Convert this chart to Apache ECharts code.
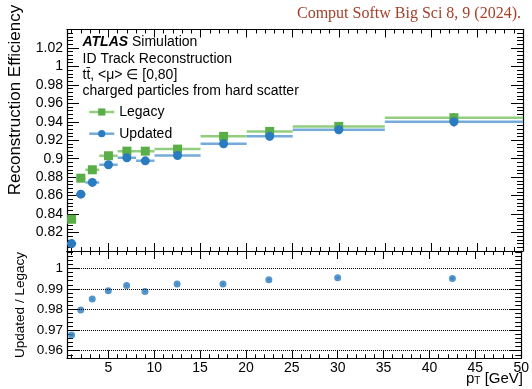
<!DOCTYPE html>
<html>
<head>
<meta charset="utf-8">
<script src="https://cdn.jsdelivr.net/npm/echarts@6/dist/echarts.min.js"></script>
<style>
  html, body { margin: 0; padding: 0; background: #fff; }
  #chart { width: 532px; height: 389px; }
</style>
</head>
<body>
<div id="chart"></div>
<script>
// pT bins [GeV]
const binLow    = [0.5, 1.5, 2.5, 4, 6, 8, 10, 15, 20, 25, 35];
const binHigh   = [1.5, 2.5, 4, 6, 8, 10, 15, 20, 25, 35, 50];
const binCenter = [1, 2, 3.25, 5, 7, 9, 12.5, 17.5, 22.5, 30, 42.5];

// Reconstruction efficiency per bin
const effLegacy  = [0.8344, 0.8789, 0.8880, 0.9032, 0.9082, 0.9082, 0.9104, 0.9242, 0.9296, 0.9350, 0.9444];
const errLegacy  = [0.0010, 0.0010, 0.0010, 0.0012, 0.0015, 0.0018, 0.0022, 0.0035, 0.0045, 0.0045, 0.0050];
const effUpdated = [0.8080, 0.8616, 0.8743, 0.8934, 0.9010, 0.8977, 0.9035, 0.9162, 0.9242, 0.9314, 0.9400];
const errUpdated = [0.0010, 0.0010, 0.0010, 0.0012, 0.0015, 0.0018, 0.0022, 0.0035, 0.0045, 0.0045, 0.0050];

// Updated / Legacy
const ratioVals = [0.9676, 0.9798, 0.9851, 0.9891, 0.9916, 0.9887, 0.9924, 0.9924, 0.9945, 0.9954, 0.9951];
const ratioErr  = [0.0003, 0.0002, 0.0002, 0.0002, 0.0002, 0.0002, 0.0002, 0.0003, 0.0003, 0.0004, 0.0006];

// Tick values
const xMajorTicks   = [5, 10, 15, 20, 25, 30, 35, 40, 45, 50];
const effTicks      = [0.82, 0.84, 0.86, 0.88, 0.9, 0.92, 0.94, 0.96, 0.98, 1, 1.02];
const ratioTicks    = [0.96, 0.97, 0.98, 0.99, 1];

const X_MIN = 0.5, X_MAX = 50;
const EFF_MIN = 0.8, EFF_MAX = 1.04;
const RATIO_MIN = 0.9563, RATIO_MAX = 1.0084;

// minor tick positions
function minorTicks(lo, hi, step, majors) {
  const out = [];
  const n = Math.round((hi - lo) / step);
  for (let i = 0; i <= n; i++) {
    const v = +(lo + i * step).toFixed(6);
    if (!majors.some(m => Math.abs(m - v) < step / 10)) out.push(v);
  }
  return out;
}
const xMinorTicks     = minorTicks(1, 49, 1, xMajorTicks);
const effMinorTicks   = minorTicks(0.804, 1.036, 0.004, effTicks);
const ratioMinorTicks = minorTicks(0.958, 1.008, 0.002, ratioTicks);

const FONT = '"Liberation Sans", Arial, Helvetica, sans-serif';
const GREEN = '#5aae47', GREEN_LINE = '#93cd80';
const BLUE = '#2a7bbf',  BLUE_LINE = '#74abda';

// Four framed sides per grid: major + minor tick axis on each side
function frameAxes(dir, grid, min, max, majors, minors, majLen, minLen, labelOpt) {
  const sides = dir === 'x' ? ['bottom', 'top'] : ['left', 'right'];
  const out = [];
  sides.forEach((side, s) => {
    out.push({
      type: 'value', gridIndex: grid, position: side, min: min, max: max,
      axisLine: { show: true, onZero: false, lineStyle: { color: '#000', width: 1.2 } },
      axisTick: { show: true, inside: true, length: majLen, customValues: majors,
                  lineStyle: { color: '#000', width: 1 } },
      axisLabel: (s === 0 && labelOpt)
        ? Object.assign({ show: true, customValues: majors }, labelOpt)
        : { show: false },
      splitLine: { show: false }
    });
    out.push({
      type: 'value', gridIndex: grid, position: side, min: min, max: max,
      axisLine: { show: false, onZero: false },
      axisTick: { show: true, inside: true, length: minLen, customValues: minors,
                  lineStyle: { color: '#000', width: 1 } },
      axisLabel: { show: false },
      splitLine: { show: false }
    });
  });
  return out;
}

const numFmt = v => String(+v.toFixed(3));

const xAxes = [].concat(
  frameAxes('x', 0, X_MIN, X_MAX, xMajorTicks, xMinorTicks, 8, 4, null),
  frameAxes('x', 1, X_MIN, X_MAX, xMajorTicks, xMinorTicks, 8, 4,
    { margin: 3, color: '#000', fontFamily: FONT, fontSize: 14, formatter: numFmt })
);
const yAxes = [].concat(
  frameAxes('y', 0, EFF_MIN, EFF_MAX, effTicks, effMinorTicks, 12, 6,
    { margin: 4, color: '#000', fontFamily: FONT, fontSize: 14, formatter: numFmt }),
  frameAxes('y', 1, RATIO_MIN, RATIO_MAX, ratioTicks, ratioMinorTicks, 12, 6,
    { margin: 4, color: '#000', fontFamily: FONT, fontSize: 13.5, formatter: numFmt })
);

// Horizontal bin extent + vertical uncertainty for one sample
function binSeries(name, vals, errs, lineColor, markColor, xi, yi, showWidth) {
  return {
    name: name, type: 'custom', xAxisIndex: xi, yAxisIndex: yi, silent: true, clip: true,
    z: 2,
    data: binLow.map((lo, i) => [lo, binHigh[i], binCenter[i], vals[i], errs[i]]),
    encode: { x: [0, 1], y: 3 },
    renderItem: function (params, api) {
      const lo = api.value(0), hi = api.value(1), c = api.value(2);
      const v = api.value(3), e = api.value(4);
      const a = api.coord([lo, v]), b = api.coord([hi, v]);
      const t = api.coord([c, v + e]), d = api.coord([c, v - e]);
      const children = [];
      if (showWidth) {
        children.push({ type: 'line', shape: { x1: a[0], y1: a[1], x2: b[0], y2: b[1] },
                        style: { stroke: lineColor, lineWidth: 2.5 } });
      }
      children.push({ type: 'line', shape: { x1: t[0], y1: t[1], x2: d[0], y2: d[1] },
                      style: { stroke: markColor, lineWidth: 2 } });
      return { type: 'group', children: children };
    }
  };
}

const option = {
  animation: false,
  backgroundColor: '#fff',
  grid: [
    { left: 67, right: 9, top: 29.5, height: 221.5 },
    { left: 67, right: 9, top: 251, height: 107.3 }
  ],
  xAxis: xAxes,
  yAxis: yAxes,
  legend: {
    orient: 'vertical', left: 83, top: 99,
    itemWidth: 25, itemHeight: 9, itemGap: 5.7,
    textStyle: { fontFamily: FONT, fontSize: 14, color: '#000', lineHeight: 16 },
    selectedMode: false,
    data: [
      { name: 'Legacy',  lineStyle: { color: GREEN_LINE, width: 2.5, opacity: 1 } },
      { name: 'Updated', lineStyle: { color: BLUE_LINE,  width: 2.5, opacity: 1 } }
    ]
  },
  series: [
    binSeries('Legacy bins',  effLegacy,  errLegacy,  GREEN_LINE, GREEN, 0, 0, true),
    binSeries('Updated bins', effUpdated, errUpdated, BLUE_LINE,  BLUE,  0, 0, true),
    {
      name: 'Legacy', type: 'line', xAxisIndex: 0, yAxisIndex: 0, z: 3,
      data: binCenter.map((x, i) => [x, effLegacy[i]]),
      symbol: 'rect', symbolSize: 9, showSymbol: true,
      itemStyle: { color: GREEN },
      lineStyle: { opacity: 0, color: GREEN_LINE }
    },
    {
      name: 'Updated', type: 'line', xAxisIndex: 0, yAxisIndex: 0, z: 4,
      data: binCenter.map((x, i) => [x, effUpdated[i]]),
      symbol: 'circle', symbolSize: 9, showSymbol: true,
      itemStyle: { color: BLUE },
      lineStyle: { opacity: 0, color: BLUE_LINE }
    },
    binSeries('Ratio err', ratioVals, ratioErr, BLUE_LINE, BLUE, 4, 4, false),
    {
      name: 'Ratio', type: 'scatter', xAxisIndex: 4, yAxisIndex: 4, z: 4,
      data: binCenter.map((x, i) => [x, ratioVals[i]]),
      symbol: 'circle', symbolSize: 7,
      itemStyle: { color: BLUE },
      markLine: {
        silent: true, symbol: 'none', animation: false,
        label: { show: false },
        lineStyle: { color: '#000', type: 'dotted', width: 1 },
        data: ratioTicks.map(v => ({ yAxis: v }))
      }
    }
  ],
  graphic: [
    { type: 'text', x: 521, y: 14,
      style: { text: 'Comput Softw Big Sci 8, 9 (2024).', textAlign: 'right', textVerticalAlign: 'middle',
               font: '16px "Liberation Serif", "Times New Roman", serif', fill: '#a4402a' } },
    { type: 'text', x: 82.5, y: 41.7,
      style: { text: '{b|ATLAS} Simulation', textVerticalAlign: 'middle',
               font: '14px ' + FONT, fill: '#000',
               rich: { b: { fontWeight: 'bold', fontStyle: 'italic', fontSize: 14, fontFamily: FONT } } } },
    { type: 'text', x: 82.5, y: 59,
      style: { text: 'ID Track Reconstruction', textVerticalAlign: 'middle', font: '14px ' + FONT, fill: '#000' } },
    { type: 'text', x: 82.5, y: 75,
      style: { text: 'tt\u0304, <\u03bc> \u2208 [0,80]', textVerticalAlign: 'middle', font: '14px ' + FONT, fill: '#000' } },
    { type: 'text', x: 82.5, y: 90.7,
      style: { text: 'charged particles from hard scatter', textVerticalAlign: 'middle', font: '14px ' + FONT, fill: '#000' } },
    { type: 'text', x: 15, y: 100, rotation: Math.PI / 2,
      style: { text: 'Reconstruction Efficiency', textAlign: 'center', textVerticalAlign: 'middle',
               font: '17px ' + FONT, fill: '#000' } },
    { type: 'text', x: 20, y: 305, rotation: Math.PI / 2,
      style: { text: 'Updated / Legacy', textAlign: 'center', textVerticalAlign: 'middle',
               font: '13.5px ' + FONT, fill: '#000' } },
    { type: 'text', x: 523, y: 371,
      style: { text: '{p|p}{s|T}{p| [GeV]}', textAlign: 'right', textVerticalAlign: 'top',
               font: '15px ' + FONT, fill: '#000',
               rich: {
                 p: { fontSize: 15, fontFamily: FONT, lineHeight: 15, verticalAlign: 'top' },
                 s: { fontSize: 10, fontFamily: FONT, lineHeight: 10, verticalAlign: 'bottom', padding: [13, 0, 0, 0] }
               } } }
  ]
};

const chart = echarts.init(document.getElementById('chart'), null, { renderer: 'canvas' });
chart.setOption(option);
</script>
</body>
</html>
